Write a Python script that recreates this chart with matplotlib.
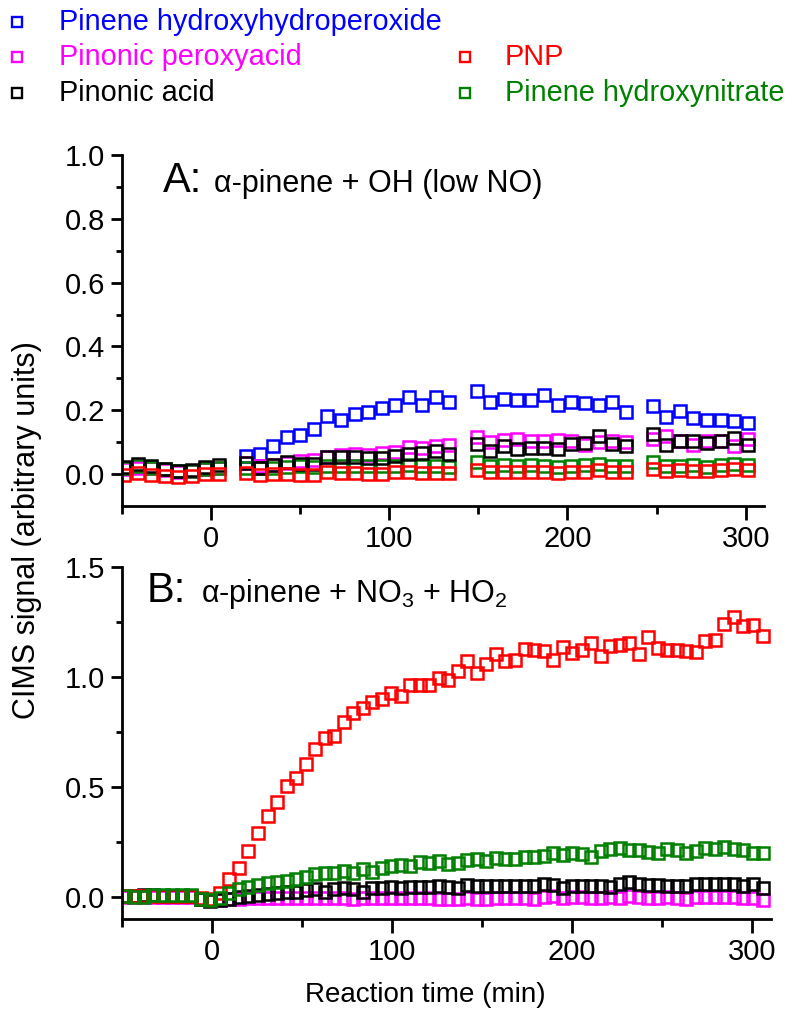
import matplotlib
matplotlib.use("Agg")
import matplotlib.pyplot as plt
from matplotlib.lines import Line2D
import numpy as np

plt.rcParams['font.family'] = ['Liberation Sans', 'DejaVu Sans']
plt.rcParams['mathtext.fontset'] = 'custom'
plt.rcParams['mathtext.rm'] = 'Liberation Sans'
plt.rcParams['mathtext.default'] = 'regular'

# ---------------- data: panel A (alpha-pinene + OH, low NO) ----------------
tA = [-48.5, -40.9, -33.3, -25.7, -18.1, -10.5, -2.9, 4.7,
      19.9, 27.5, 35.1, 42.7, 50.3, 57.9, 65.5, 73.1, 80.7, 88.3, 95.9, 103.5,
      111.1, 118.7, 126.3, 133.9,
      149.1, 156.7, 164.3, 171.9, 179.5, 187.1, 194.7, 202.3, 209.9, 217.5, 225.1, 232.7,
      247.9, 255.5, 263.1, 270.7, 278.3, 285.9, 293.5, 301.1]
hydroperoxide_A = [np.nan] * 8 + [
    0.056, 0.062, 0.088, 0.117, 0.124, 0.140, 0.182, 0.171, 0.188, 0.196, 0.206, 0.215,
    0.242, 0.217, 0.242, 0.225,
    0.261, 0.227, 0.235, 0.232, 0.231, 0.248, 0.216, 0.225, 0.222, 0.217, 0.225, 0.195,
    0.213, 0.180, 0.199, 0.175, 0.169, 0.171, 0.166, 0.159]
peroxyacid_A = [0.015, 0.020, 0.018, 0.012, 0.008, 0.010, 0.015, 0.020,
    0.035, 0.025, 0.030, 0.035, 0.040, 0.045, 0.055, 0.060, 0.062, 0.060, 0.065, 0.070,
    0.085, 0.083, 0.088, 0.092,
    0.115, 0.100, 0.108, 0.110, 0.103, 0.103, 0.108, 0.103, 0.092, 0.100, 0.103, 0.100,
    0.110, 0.118, 0.103, 0.092, 0.103, 0.103, 0.087, 0.110]
acid_A = [0.023, 0.033, 0.025, 0.015, 0.010, 0.012, 0.021, 0.030,
    0.036, 0.018, 0.030, 0.039, 0.033, 0.033, 0.052, 0.054, 0.054, 0.050, 0.050, 0.056,
    0.062, 0.066, 0.072, 0.062,
    0.095, 0.073, 0.087, 0.080, 0.082, 0.082, 0.079, 0.095, 0.097, 0.118, 0.094, 0.087,
    0.126, 0.092, 0.105, 0.105, 0.097, 0.103, 0.113, 0.090]
pnp_A = [-0.002, 0.004, -0.002, -0.006, -0.010, -0.006, -0.001, 0.001,
    0.003, -0.004, 0.000, 0.000, -0.002, -0.002, 0.005, 0.003, 0.003, 0.001, 0.001, 0.005,
    0.005, 0.003, 0.003, 0.003,
    0.012, 0.005, 0.008, 0.005, 0.005, 0.005, 0.003, 0.008, 0.008, 0.012, 0.008, 0.006,
    0.016, 0.010, 0.014, 0.010, 0.010, 0.014, 0.016, 0.014]
nitrate_A = [0.020, 0.025, 0.020, 0.015, 0.010, 0.010, 0.015, 0.020,
    0.020, 0.020, 0.020, 0.022, 0.025, 0.022, 0.025, 0.025, 0.025, 0.025, 0.025, 0.025,
    0.027, 0.025, 0.025, 0.022,
    0.037, 0.026, 0.028, 0.024, 0.027, 0.024, 0.022, 0.026, 0.028, 0.031, 0.026, 0.024,
    0.037, 0.025, 0.025, 0.027, 0.023, 0.028, 0.031, 0.028]

# ---------------- data: panel B (alpha-pinene + NO3 + HO2) ----------------
tB = [-48.2, -42.9, -37.6, -32.4, -27.1, -21.8, -16.5, -11.2, -6.0, -0.7,
      4.6, 9.9, 15.2, 20.4, 25.7, 31.0, 36.3, 41.6, 46.8, 52.1,
      57.4, 62.7, 68.0, 73.2, 78.5, 83.8, 89.1, 94.4, 99.6, 104.9,
      110.2, 115.5, 120.8, 126.0, 131.3, 136.6, 141.9, 147.2, 152.4, 157.7,
      163.0, 168.3, 173.6, 178.8, 184.1, 189.4, 194.7, 200.0, 205.2, 210.5,
      215.8, 221.1, 226.4, 231.6, 236.9, 242.2, 247.5, 252.8, 258.0, 263.3,
      268.6, 273.9, 279.2, 284.4, 289.7, 295.0, 300.3, 305.6]
pnp_B = [0.005, 0.003, 0.003, 0.005, 0.005, 0.005, 0.005, 0.005, -0.005, -0.010,
    0.020, 0.080, 0.133, 0.208, 0.291, 0.367, 0.431, 0.506, 0.541, 0.606,
    0.673, 0.723, 0.731, 0.794, 0.837, 0.859, 0.885, 0.900, 0.927, 0.912,
    0.965, 0.965, 0.965, 0.995, 0.988, 1.026, 1.071, 1.018, 1.061, 1.105,
    1.071, 1.079, 1.127, 1.124, 1.116, 1.079, 1.136, 1.109, 1.124, 1.154,
    1.094, 1.139, 1.147, 1.154, 1.106, 1.182, 1.132, 1.121, 1.121, 1.117,
    1.115, 1.162, 1.170, 1.242, 1.275, 1.233, 1.236, 1.185]
nitrate_B = [0.005, 0.002, 0.002, 0.008, 0.008, 0.008, 0.008, 0.008, -0.011, -0.014,
    -0.003, 0.017, 0.035, 0.047, 0.053, 0.062, 0.068, 0.073, 0.083, 0.092,
    0.103, 0.107, 0.110, 0.118, 0.110, 0.126, 0.115, 0.133, 0.141, 0.144,
    0.141, 0.159, 0.156, 0.163, 0.148, 0.155, 0.166, 0.171, 0.163, 0.178,
    0.175, 0.174, 0.183, 0.181, 0.186, 0.201, 0.189, 0.198, 0.194, 0.183,
    0.209, 0.216, 0.224, 0.213, 0.212, 0.204, 0.201, 0.216, 0.213, 0.198,
    0.209, 0.224, 0.216, 0.227, 0.216, 0.212, 0.201, 0.198]
acid_B = [0.005, 0.005, 0.008, 0.008, 0.005, 0.005, 0.005, 0.005, -0.010, -0.020,
    -0.015, -0.008, 0.000, 0.005, 0.010, 0.013, 0.020, 0.025, 0.022, 0.030,
    0.035, 0.025, 0.035, 0.040, 0.035, 0.025, 0.040, 0.040, 0.045, 0.040,
    0.045, 0.046, 0.045, 0.049, 0.046, 0.041, 0.056, 0.049, 0.052, 0.052,
    0.052, 0.052, 0.052, 0.052, 0.061, 0.056, 0.041, 0.052, 0.052, 0.049,
    0.052, 0.046, 0.061, 0.067, 0.061, 0.056, 0.056, 0.052, 0.052, 0.052,
    0.061, 0.061, 0.061, 0.061, 0.061, 0.052, 0.061, 0.041]
peroxyacid_B = [0.002, 0.000, 0.000, 0.002, 0.000, 0.000, 0.000, 0.000, -0.010, -0.015,
    -0.012, -0.010, -0.008, -0.006, -0.005, -0.006, -0.005, -0.004, -0.006, -0.005,
    -0.004, -0.006, -0.005, -0.006, -0.008, -0.006, -0.005, -0.006, -0.004, -0.005,
    -0.006, -0.005, -0.006, -0.009, -0.009, -0.009, -0.005, -0.009, -0.009, -0.005,
    -0.005, -0.005, -0.005, -0.009, 0.000, 0.003, -0.005, 0.000, 0.000, -0.005,
    -0.005, 0.000, -0.005, 0.003, 0.000, -0.005, -0.005, 0.000, -0.005, -0.009,
    0.000, 0.000, 0.000, 0.000, 0.000, -0.005, -0.005, -0.012]

legend_labels = ["Pinene hydroxyhydroperoxide", "Pinonic peroxyacid", "PNP",
                 "Pinonic acid", "Pinene hydroxynitrate"]
c_blue, c_mag, c_red, c_blk, c_grn = "#0000FF", "#FF00FF", "#FF0000", "#000000", "#008000"

W, H = 788, 1011
fig = plt.figure(figsize=(W / 100, H / 100), dpi=100)


def rect(l, r, t, b):
    return [l / W, 1 - b / H, (r - l) / W, (b - t) / H]


axA = fig.add_axes(rect(121.5, 763.5, 155, 506))
axB = fig.add_axes(rect(121.5, 770.5, 567, 919))

mk = dict(marker='s', linestyle='none', markersize=9.2, markerfacecolor='none',
          markeredgewidth=1.8)

axA.plot(tA, hydroperoxide_A, markeredgecolor=c_blue, **mk)
axA.plot(tA, peroxyacid_A, markeredgecolor=c_mag, **mk)
axA.plot(tA, nitrate_A, markeredgecolor=c_grn, **mk)
axA.plot(tA, acid_A, markeredgecolor=c_blk, **mk)
axA.plot(tA, pnp_A, markeredgecolor=c_red, **mk)

axB.plot(tB, peroxyacid_B, markeredgecolor=c_mag, **mk)
axB.plot(tB, acid_B, markeredgecolor=c_blk, **mk)
axB.plot(tB, pnp_B, markeredgecolor=c_red, **mk)
axB.plot(tB, nitrate_B, markeredgecolor=c_grn, **mk)

for ax in (axA, axB):
    ax.set_xlim(-50, 310)
    for s in ('top', 'right'):
        ax.spines[s].set_visible(False)
    for s in ('left', 'bottom'):
        ax.spines[s].set_linewidth(2.0)
    ax.set_xticks([0, 100, 200, 300])
    ax.set_xticks([-50, 50, 150, 250], minor=True)
    ax.tick_params(axis='both', which='major', direction='out', width=2.0,
                   labelsize=21, pad=4)
    ax.tick_params(axis='y', which='major', length=8)
    ax.tick_params(axis='y', which='minor', length=4, width=2.0)
    ax.tick_params(axis='x', which='major', length=10)
    ax.tick_params(axis='x', which='minor', length=6, width=2.0)
    ax.patch.set_visible(False)

axA.set_ylim(-0.1, 1.0)
axA.set_yticks([0.0, 0.2, 0.4, 0.6, 0.8, 1.0])
axA.set_yticks([0.1, 0.3, 0.5, 0.7, 0.9], minor=True)
axA.set_yticklabels(["0.0", "0.2", "0.4", "0.6", "0.8", "1.0"])

axB.set_ylim(-0.1, 1.5)
axB.set_yticks([0.0, 0.5, 1.0, 1.5])
axB.set_yticks([0.25, 0.75, 1.25], minor=True)
axB.set_yticklabels(["0.0", "0.5", "1.0", "1.5"])

# panel titles
axA.text(-27, 0.885, "A:", fontsize=30, ha='left', va='baseline')
axA.text(2, 0.885, "\u03b1-pinene + OH (low NO)", fontsize=22, ha='left', va='baseline')
axB.text(-36, 1.34, "B:", fontsize=30, ha='left', va='baseline')
axB.text(-6, 1.34, "\u03b1-pinene + NO$_3$ + HO$_2$", fontsize=22, ha='left', va='baseline')

# axis labels
fig.text(27 / W, 1 - 530 / H, "CIMS signal (arbitrary units)", rotation=90,
         fontsize=22, ha='center', va='center')
fig.text(425 / W, 1 - 995 / H, "Reaction time (min)", fontsize=20,
         ha='center', va='center')

# legend (manual layout)
leg = [(legend_labels[0], c_blue, 17, 59, 22),
       (legend_labels[1], c_mag, 17, 59, 57),
       (legend_labels[2], c_red, 465, 505, 57),
       (legend_labels[3], c_blk, 17, 59, 93),
       (legend_labels[4], c_grn, 465, 505, 93)]
for lab, col, mx, tx, y in leg:
    fig.add_artist(Line2D([mx / W], [1 - y / H], transform=fig.transFigure,
                          marker='s', markersize=7, markerfacecolor='none',
                          markeredgecolor=col, markeredgewidth=1.7, linestyle='none'))
    fig.text(tx / W, 1 - y / H, lab, color=col, fontsize=20.8, ha='left', va='center')

fig.savefig("out.png", dpi=100)
